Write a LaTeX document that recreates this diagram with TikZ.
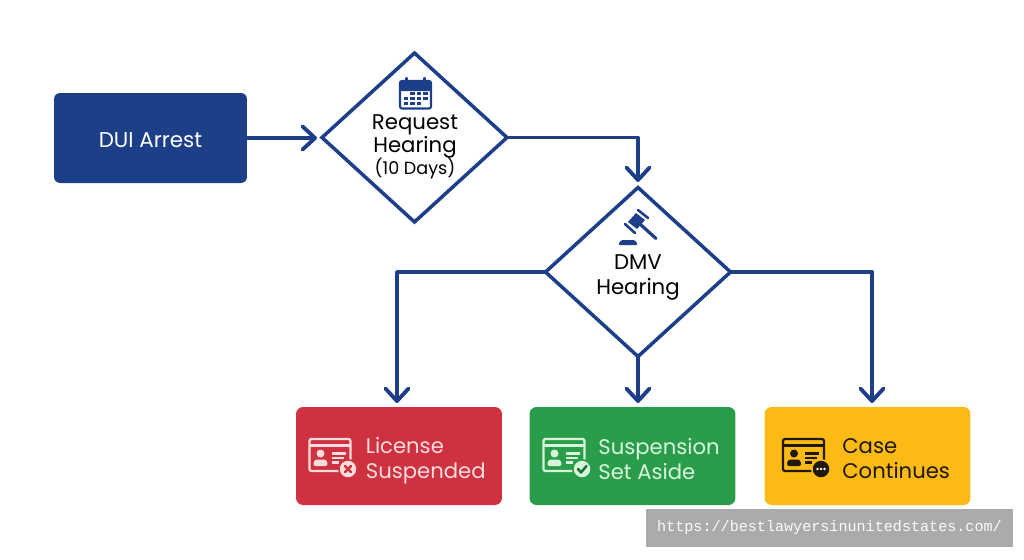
\documentclass[tikz,border=0pt]{standalone}
\usepackage{fontspec}
\setmainfont{Poppins}
\setmonofont{Liberation Mono}
\usepackage{tikz}
\usetikzlibrary{positioning,arrows.meta,shapes.geometric}
\definecolor{navy}{HTML}{1C3F87}
\definecolor{boxred}{HTML}{CE3240}
\definecolor{boxgreen}{HTML}{2A9D4B}
\definecolor{boxyellow}{HTML}{FCBA14}
\definecolor{inkred}{HTML}{FBDCDC}
\definecolor{inkgreen}{HTML}{D6F5DB}
\definecolor{inkdark}{HTML}{21180C}
\definecolor{stamp}{HTML}{ABABAB}
\tikzset{
  px/.style={x=0.02cm, y=-0.02cm},
  fwd/.style={-{Straight Barb[length=0.25cm, width=0.46cm, round]}, line width=2.2pt, draw=navy, line cap=round, line join=round},
  decision/.style={diamond, draw=navy, fill=white, line width=2pt, inner sep=0pt, outer sep=0pt,
                   minimum width=3.7cm, minimum height=3.38cm, aspect=1.09},
  outcome/.style={rectangle, rounded corners=0.14cm, minimum width=4.12cm, minimum height=1.96cm, inner sep=0pt},
  suspended/.style={outcome, fill=boxred},
  setaside/.style={outcome, fill=boxgreen},
  continues/.style={outcome, fill=boxyellow},
  steptext/.style={font=\fontsize{12.1}{13}\selectfont, align=center, text=black, inner sep=0pt},
  outcometext/.style={font=\fontsize{12.05}{14.3}\selectfont, align=left, anchor=west, inner sep=0pt},
}
% id card with its top left corner at (#1,439)
\newcommand{\idcard}[2]{
  \begin{scope}[shift={(#1,439)}]
    \draw[#2, line width=1.25pt, rounded corners=0.04cm] (0,0) rectangle (41,32);
    \draw[#2, line width=1.25pt] (0,6.5) -- (41,6.5);
    \fill[#2] (11,14.5) circle (0.08cm);
    \fill[#2, rounded corners=0.05cm] (3.5,27) -- (5,20.5) -- (17,20.5) -- (18.5,27) -- cycle;
    \draw[#2, line width=1.2pt] (22,14.5) -- (36,14.5) (22,19) -- (34,19) (22,23.5) -- (29,23.5);
  \end{scope}
}
\begin{document}
\begin{tikzpicture}[px]
  \useasboundingbox (0,0) rectangle (1024,559);

  \node[rectangle, rounded corners=0.12cm, fill=navy, minimum width=3.86cm, minimum height=1.8cm] (arrest) at (150.5,138) {};
  \node[font=\fontsize{12.2}{13}\selectfont, text=white, inner sep=0pt] (arrestlabel) at (150.5,140) {DUI Arrest};

  \node[decision] (request) at (414.5,137.5) {};
  \node[decision] (dmv) at (638,272) {};

  \node[suspended] (license) at (399,456) {};
  \node[setaside] (aside) at (632.5,456) {};
  \node[continues] (case) at (867.5,456) {};

  \node[steptext] (requestlabel) at (415,136.5) {Request\\Hearing};
  \node[steptext, font=\fontsize{10}{12}\selectfont] (dayslabel) at (415,169) {(10 Days)};
  \node[steptext, font=\fontsize{12.1}{14.2}\selectfont] (dmvlabel) at (638,277.5) {DMV\\Hearing};

  \node[outcometext, text=inkred] (licenselabel) at (365.5,461) {License\\Suspended};
  \node[outcometext, text=inkgreen] (asidelabel) at (598,459) {Suspension\\Set Aside};
  \node[outcometext, text=inkdark] (caselabel) at (842,459) {Case\\Continues};

  \coordinate (licensein) at (397,403);
  \coordinate (asidein) at (638,403);
  \coordinate (casein) at (872,403);
  \coordinate (requestin) at (317,138);
  \coordinate (dmvin) at (638,182);

  \draw[fwd] (arrest.east) -- (requestin);
  \draw[fwd] (request.east) -| (dmvin);
  \draw[fwd] (dmv.west) -| (licensein);
  \draw[fwd] (dmv.south) -- (asidein);
  \draw[fwd] (dmv.east) -| (casein);

  % calendar
  \fill[navy, rounded corners=0.04cm] (400,81) rectangle (431,91);
  \draw[navy, line width=1.2pt, rounded corners=0.04cm] (400,81) rectangle (431,108.5);
  \draw[navy, line width=1.2pt, line cap=round] (406.5,78) -- (406.5,84) (424.5,78) -- (424.5,84);
  \foreach \dx in {412.5,419,425.5} \fill[navy] (\dx-2.2,91.5) rectangle ++(4.4,3.6);
  \foreach \dx in {406,412.5,419,425.5} \fill[navy] (\dx-2.2,96.5) rectangle ++(4.4,3.6);
  \foreach \dx in {406,412.5,419} \fill[navy] (\dx-2.2,101.5) rectangle ++(4.4,3.6);

  % gavel
  \fill[navy] (636,213) -- (645,220) -- (637,229) -- (628,222) -- cycle;
  \draw[navy, line width=1.5pt, line cap=round] (638,210) -- (648,218) (625,224) -- (635,233);
  \draw[navy, line width=1.8pt, line cap=round] (641,225) -- (656,238.5);
  \fill[navy, rounded corners=0.03cm] (618,245) -- (621,240) -- (635,240) -- (638,245) -- cycle;

  % cards and their badges
  \idcard{309.5}{inkred}
  \fill[boxred] (348,469) circle (0.2cm);
  \fill[inkred] (348,469) circle (0.165cm);
  \draw[boxred, line width=1.4pt, line cap=round] (345,466) -- (351,472) (351,466) -- (345,472);

  \idcard{543.5}{inkgreen}
  \fill[boxgreen] (582,469) circle (0.2cm);
  \fill[inkgreen] (582,469) circle (0.165cm);
  \draw[boxgreen!70!black, line width=1.4pt, line cap=round, line join=round] (578,469) -- (581,472.5) -- (586.5,466);

  \idcard{783}{inkdark}
  \fill[boxyellow] (821,469) circle (0.2cm);
  \fill[inkdark] (821,469) circle (0.165cm);
  \foreach \dx in {-3.5,0,3.5} \fill[white] (821+\dx,469) circle (0.026cm);

  \node[fill=stamp, minimum width=7.34cm, minimum height=0.76cm, inner sep=0pt, text=white!95!stamp,
        font=\ttfamily\fontsize{8.6}{10}\selectfont] (stamp) at (829.5,528) {https://bestlawyersinunitedstates.com/};
\end{tikzpicture}
\end{document}
